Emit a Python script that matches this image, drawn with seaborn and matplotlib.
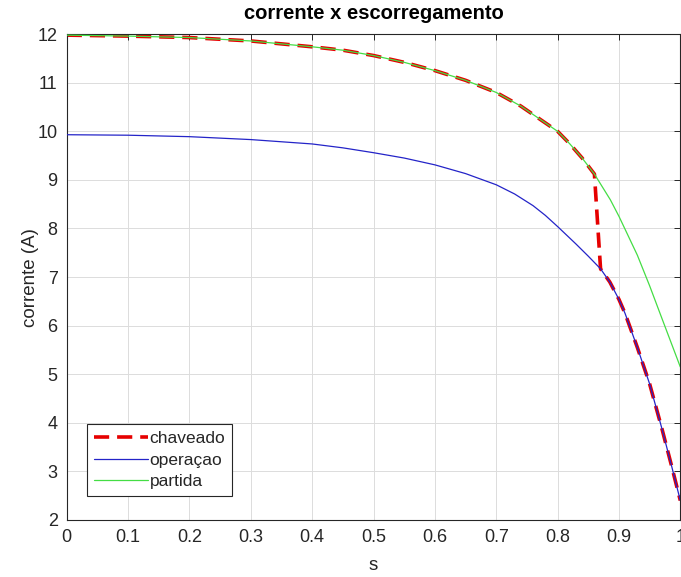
import matplotlib
matplotlib.use("Agg")
import matplotlib.pyplot as plt
import seaborn as sns
import pandas as pd

# ---- data ----
operacao_s = [0.0, 0.1, 0.2, 0.3, 0.4, 0.45, 0.5, 0.55, 0.6, 0.65, 0.7, 0.73, 0.76, 0.78,
              0.8, 0.83, 0.85, 0.87, 0.885, 0.9, 0.91, 0.93, 0.95, 0.97, 0.985, 1.0]
operacao_i = [9.93, 9.92, 9.89, 9.83, 9.74, 9.66, 9.56, 9.45, 9.31, 9.13, 8.90, 8.71, 8.47, 8.27,
              8.04, 7.68, 7.43, 7.17, 6.90, 6.54, 6.25, 5.55, 4.80, 3.88, 3.15, 2.40]

partida_s = [0.0, 0.1, 0.2, 0.3, 0.4, 0.45, 0.5, 0.55, 0.6, 0.65, 0.7, 0.74, 0.77, 0.8,
             0.82, 0.84, 0.86, 0.886, 0.9, 0.93, 0.95, 0.97, 1.0]
partida_i = [11.98, 11.96, 11.93, 11.86, 11.74, 11.67, 11.56, 11.42, 11.25, 11.05, 10.80,
             10.52, 10.26, 10.00, 9.74, 9.45, 9.12, 8.59, 8.25, 7.45, 6.82, 6.15, 5.15]

chaveado_s = [0.0, 0.1, 0.2, 0.3, 0.4, 0.45, 0.5, 0.55, 0.6, 0.65, 0.7, 0.74, 0.77, 0.8,
              0.82, 0.84, 0.86, 0.87, 0.885, 0.9, 0.91, 0.93, 0.95, 0.97, 0.985, 1.0]
chaveado_i = [11.98, 11.96, 11.93, 11.86, 11.74, 11.67, 11.56, 11.42, 11.25, 11.05, 10.80,
              10.52, 10.26, 10.00, 9.74, 9.45, 9.12, 7.17, 6.90, 6.54, 6.25, 5.55, 4.80,
              3.88, 3.15, 2.40]

x_ticks = [0, 0.1, 0.2, 0.3, 0.4, 0.5, 0.6, 0.7, 0.8, 0.9, 1]
x_tick_labels = ["0", "0.1", "0.2", "0.3", "0.4", "0.5", "0.6", "0.7", "0.8", "0.9", "1"]
y_ticks = [2, 3, 4, 5, 6, 7, 8, 9, 10, 11, 12]

title = "corrente x escorregamento"
xlabel = "s"
ylabel = "corrente (A)"
labels = ["chaveado", "operaçao", "partida"]

# ---- styling ----
sns.set_style("white")
plt.rcParams["font.family"] = ["Liberation Sans", "DejaVu Sans"]

fig = plt.figure(figsize=(6.81, 5.77), dpi=100)
ax = fig.add_axes([0.098, 0.0988, 0.901, 0.842])

df_ch = pd.DataFrame({"s": chaveado_s, "i": chaveado_i})
df_op = pd.DataFrame({"s": operacao_s, "i": operacao_i})
df_pa = pd.DataFrame({"s": partida_s, "i": partida_i})

sns.lineplot(data=df_ch, x="s", y="i", ax=ax, color="#e60000", linewidth=2.6,
             linestyle=(0, (4.2, 2.2)), label=labels[0], estimator=None, sort=False,
             zorder=2)
sns.lineplot(data=df_op, x="s", y="i", ax=ax, color="#2424c8", linewidth=0.9,
             label=labels[1], estimator=None, sort=False, zorder=3)
sns.lineplot(data=df_pa, x="s", y="i", ax=ax, color="#44dd44", linewidth=0.9,
             label=labels[2], estimator=None, sort=False, zorder=3)

ax.set_xlim(0, 1)
ax.set_ylim(2, 12)
ax.set_xticks(x_ticks)
ax.set_xticklabels(x_tick_labels)
ax.set_yticks(y_ticks)

ax.grid(True, color="#dcdcdc", linewidth=0.7)
ax.set_axisbelow(True)
for sp in ax.spines.values():
    sp.set_color("#262626")
    sp.set_linewidth(0.8)
    sp.set_visible(True)

ax.tick_params(axis="both", direction="in", length=4, width=0.7, color="#262626",
               labelsize=13, labelcolor="#262626", top=True, right=True, pad=6.5)

ax.set_title(title, fontsize=14.5, fontweight="bold", color="black", pad=11)
ax.set_xlabel(xlabel, fontsize=13.5, color="#262626", labelpad=8)
ax.set_ylabel(ylabel, fontsize=13.5, color="#262626", labelpad=-1)

leg = ax.legend(loc="lower left", bbox_to_anchor=(0.033, 0.049), borderaxespad=0,
                fontsize=12.5, handlelength=3.1, handletextpad=0.1, labelspacing=0.36,
                borderpad=0.4, fancybox=False, framealpha=1, edgecolor="#262626")
leg.get_frame().set_linewidth(0.8)

fig.savefig("out.png", dpi=100)
